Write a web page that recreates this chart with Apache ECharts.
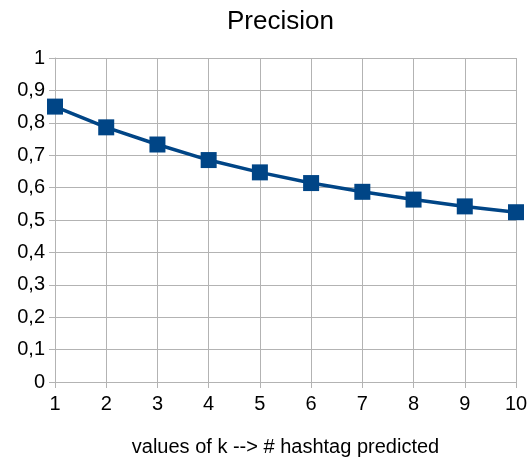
<!DOCTYPE html>
<html>
<head>
<meta charset="utf-8">
<script src="https://cdn.jsdelivr.net/npm/echarts@6/dist/echarts.min.js"></script>
<style>
  html, body {margin: 0; padding: 0; background: #fff;}
  #main {width: 531px; height: 463px;}
</style>
</head>
<body>
<div id="main"></div>
<script>
const kValues = ['1', '2', '3', '4', '5', '6', '7', '8', '9', '10'];
const precision = [0.85, 0.786, 0.733, 0.685, 0.647, 0.614, 0.587, 0.563, 0.542, 0.524];

const chart = echarts.init(document.getElementById('main'));
const font = 'Liberation Sans';
chart.setOption({
  animation: false,
  backgroundColor: '#fff',
  title: {
    text: 'Precision',
    left: 222,
    top: 4,
    textStyle: {fontFamily: font, fontSize: 26, fontWeight: 'normal', color: '#000'}
  },
  grid: {left: 55, right: 15, top: 58, bottom: 81},
  xAxis: {
    type: 'category',
    data: kValues,
    boundaryGap: false,
    name: 'values of k --> # hashtag predicted',
    nameLocation: 'middle',
    nameGap: 55,
    nameTextStyle: {fontFamily: font, fontSize: 20, color: '#000'},
    axisLine: {lineStyle: {color: '#b3b3b3', width: 1}},
    axisTick: {show: true, length: 6, lineStyle: {color: '#b3b3b3'}},
    axisLabel: {fontFamily: font, fontSize: 20, color: '#000', margin: 12},
    splitLine: {show: true, lineStyle: {color: '#b3b3b3', width: 1}}
  },
  yAxis: {
    type: 'value',
    min: 0,
    max: 1,
    interval: 0.1,
    axisLine: {show: true, lineStyle: {color: '#b3b3b3'}},
    axisTick: {show: true, length: 6, lineStyle: {color: '#b3b3b3'}},
    axisLabel: {
      fontFamily: font, fontSize: 20, color: '#000', margin: 10,
      formatter: v => String(Math.round(v * 10) / 10).replace('.', ',')
    },
    splitLine: {lineStyle: {color: '#b3b3b3', width: 1}}
  },
  series: [{
    type: 'line',
    data: precision,
    symbol: 'rect',
    symbolSize: 16,
    lineStyle: {color: '#004586', width: 3.5},
    itemStyle: {color: '#004586'}
  }]
});
</script>
</body>
</html>
